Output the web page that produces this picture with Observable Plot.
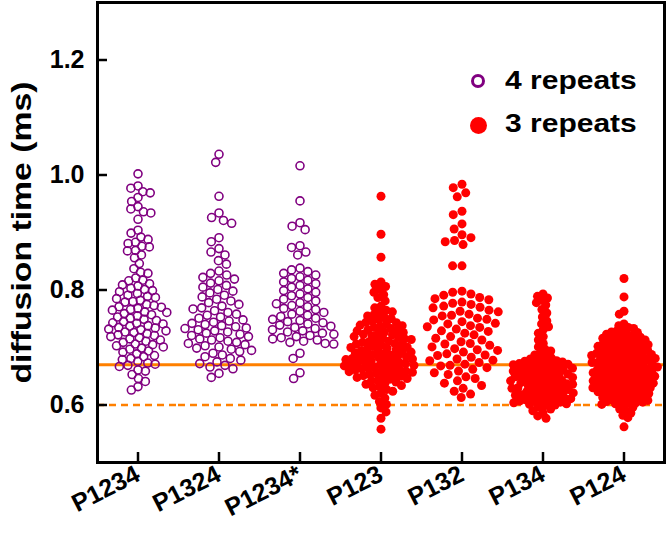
<!DOCTYPE html>
<html><head><meta charset="utf-8">
<script src="https://cdn.jsdelivr.net/npm/d3@7"></script>
<script src="https://cdn.jsdelivr.net/npm/@observablehq/plot@0.6"></script>
<style>
body{margin:0;background:#fff;}
#wrap{position:relative;width:668px;height:553px;font-family:"Liberation Sans",Arial,sans-serif;}
.leg{position:absolute;font-weight:bold;font-size:25px;color:#000;line-height:1;white-space:nowrap;transform:scaleX(1.2);transform-origin:left center;}
.mk{position:absolute;border-radius:50%;box-sizing:border-box;}
</style></head><body><div id="wrap"></div>
<script>
const categories = ["P1234", "P1324", "P1234*", "P123", "P132", "P134", "P124"];
const fourRepeatGroups = ["P1234", "P1324", "P1234*"];
const legendLabels = ["4 repeats", "3 repeats"];
const yTicks = [0.6, 0.8, 1.0, 1.2];
const yLabel = "diffusion time (ms)";
const referenceLines = {solid: 0.67, dashed: 0.60};

const valuesP1234 = [1.002, 0.981, 0.977, 0.971, 0.969, 0.961, 0.954, 0.945, 0.941, 0.936, 0.934, 0.923,
  0.904, 0.899, 0.892, 0.888, 0.883, 0.881, 0.876, 0.875, 0.869, 0.868, 0.861, 0.856,
  0.846, 0.837, 0.831, 0.829, 0.821,
  0.817, 0.816, 0.811, 0.809, 0.807, 0.803, 0.801, 0.799, 0.797, 0.794, 0.791, 0.789, 0.787, 0.785, 0.782,
  0.780, 0.779, 0.775, 0.773, 0.771, 0.770, 0.768, 0.766, 0.765, 0.762, 0.761, 0.759, 0.757, 0.755, 0.753,
  0.751, 0.749, 0.747, 0.745, 0.743, 0.742, 0.741, 0.738, 0.737, 0.735, 0.734, 0.732, 0.731, 0.729, 0.727,
  0.726, 0.724, 0.722, 0.721, 0.719, 0.717, 0.715, 0.713, 0.711, 0.709, 0.706, 0.705, 0.703, 0.701, 0.699,
  0.697, 0.694, 0.692, 0.689, 0.686, 0.684, 0.681, 0.679, 0.676, 0.673, 0.671, 0.669, 0.667,
  0.661, 0.659, 0.653, 0.646, 0.641, 0.632, 0.626];

const valuesP1324 = [1.036, 1.022, 0.963, 0.934, 0.926, 0.921, 0.916, 0.891, 0.884, 0.872, 0.866, 0.861, 0.851, 0.845,
  0.833, 0.829, 0.826, 0.822, 0.819, 0.816, 0.812, 0.808, 0.805, 0.801, 0.798, 0.795, 0.791, 0.788, 0.784,
  0.781, 0.778, 0.775, 0.772, 0.769, 0.767, 0.764, 0.761, 0.758, 0.756, 0.753, 0.751, 0.748, 0.746, 0.744,
  0.742, 0.740, 0.738, 0.736, 0.734, 0.733, 0.731, 0.729, 0.727, 0.725, 0.723, 0.721, 0.719, 0.717, 0.715,
  0.713, 0.711, 0.709, 0.707, 0.705, 0.703, 0.701, 0.699, 0.697, 0.695, 0.693, 0.690, 0.687, 0.684, 0.681,
  0.678, 0.675, 0.672, 0.669, 0.666, 0.663, 0.655, 0.648];

const valuesP1234s = [1.016, 0.955, 0.917, 0.911, 0.905, 0.877, 0.874, 0.866, 0.861,
  0.838, 0.835, 0.832, 0.829, 0.826, 0.823, 0.820, 0.817, 0.814, 0.811, 0.808, 0.805, 0.802, 0.799, 0.796,
  0.793, 0.790, 0.787, 0.784, 0.781, 0.778, 0.776, 0.773, 0.771, 0.768, 0.766, 0.763, 0.761, 0.758, 0.756,
  0.754, 0.751, 0.749, 0.747, 0.745, 0.743, 0.741, 0.739, 0.737, 0.735, 0.733, 0.731, 0.729, 0.727, 0.725,
  0.723, 0.721, 0.719, 0.717, 0.715, 0.713, 0.711, 0.709, 0.707, 0.706, 0.690, 0.681, 0.656, 0.646];

const valuesP123 = [0.963, 0.897, 0.857, 0.814, 0.810, 0.806, 0.801, 0.796, 0.792, 0.787, 0.781,
  0.772, 0.769, 0.765, 0.762, 0.760, 0.757, 0.755, 0.752, 0.750, 0.748, 0.746, 0.744, 0.743, 0.741, 0.739,
  0.738, 0.736, 0.735, 0.733, 0.731, 0.730, 0.729, 0.727, 0.726, 0.724, 0.723, 0.722, 0.720, 0.719, 0.718,
  0.716, 0.715, 0.714, 0.712, 0.711, 0.710, 0.709, 0.707, 0.706, 0.705, 0.704, 0.702, 0.701, 0.700, 0.699,
  0.698, 0.696, 0.695, 0.694, 0.693, 0.692, 0.691, 0.689, 0.688, 0.687, 0.686, 0.685, 0.684, 0.683, 0.682,
  0.681, 0.680, 0.679, 0.678, 0.677, 0.676, 0.675, 0.674, 0.673, 0.672, 0.671, 0.670, 0.669, 0.668, 0.667,
  0.666, 0.665, 0.664, 0.663, 0.662, 0.661, 0.660, 0.659, 0.658, 0.657, 0.656, 0.655, 0.654, 0.653, 0.651,
  0.650, 0.649, 0.648, 0.646, 0.645, 0.643, 0.642, 0.640, 0.638, 0.636, 0.634, 0.632, 0.630, 0.627, 0.624,
  0.621, 0.617, 0.612, 0.606, 0.601, 0.595, 0.588, 0.577, 0.558];

const valuesP132 = [0.984, 0.978, 0.969, 0.962, 0.937, 0.931, 0.915, 0.906, 0.896, 0.891, 0.886, 0.884, 0.879, 0.842, 0.842,
  0.798, 0.796, 0.793, 0.791, 0.787, 0.785, 0.783, 0.779, 0.777, 0.775, 0.772, 0.770, 0.769, 0.765, 0.763,
  0.762, 0.758, 0.756, 0.755, 0.751, 0.749, 0.748, 0.745, 0.742, 0.741, 0.738, 0.736, 0.735, 0.732, 0.729,
  0.728, 0.725, 0.722, 0.719, 0.716, 0.713, 0.710, 0.707, 0.706, 0.704, 0.701, 0.698, 0.696, 0.695, 0.692,
  0.689, 0.687, 0.686, 0.683, 0.680, 0.678, 0.677, 0.674, 0.671, 0.669, 0.668, 0.665, 0.662, 0.659, 0.656,
  0.653, 0.649, 0.646, 0.642, 0.638, 0.634, 0.629, 0.624, 0.619, 0.613];

const valuesP134 = [0.793, 0.789, 0.786, 0.782, 0.778, 0.774, 0.766, 0.760, 0.753, 0.746, 0.741, 0.736, 0.731, 0.725,
  0.719, 0.713, 0.707, 0.701, 0.697, 0.694, 0.690, 0.687, 0.684, 0.682,
  0.680, 0.679, 0.677, 0.676, 0.675, 0.674, 0.673, 0.672, 0.671, 0.670, 0.669, 0.668, 0.667, 0.666, 0.665,
  0.664, 0.663, 0.662, 0.661, 0.660, 0.659, 0.658, 0.657, 0.656, 0.655, 0.654, 0.653, 0.652, 0.651, 0.650,
  0.649, 0.648, 0.647, 0.646, 0.645, 0.644, 0.643, 0.642, 0.641, 0.640, 0.639, 0.638, 0.637, 0.636, 0.635,
  0.634, 0.633, 0.632, 0.631, 0.630, 0.629, 0.628, 0.627, 0.626, 0.625, 0.624, 0.623, 0.622, 0.621, 0.620,
  0.619, 0.618, 0.617, 0.616, 0.615, 0.614, 0.613, 0.612, 0.611, 0.610, 0.609, 0.608, 0.607, 0.606, 0.605,
  0.604, 0.603, 0.602, 0.601, 0.600, 0.598, 0.596, 0.593, 0.590, 0.586, 0.581, 0.577];

const valuesP124 = [0.820, 0.788, 0.763, 0.758, 0.741, 0.738, 0.735, 0.733, 0.731, 0.729, 0.727, 0.726, 0.724,
  0.723, 0.722, 0.720, 0.719, 0.718, 0.717, 0.716, 0.714, 0.713, 0.712, 0.711, 0.710, 0.709, 0.708, 0.707,
  0.706, 0.705, 0.704, 0.703, 0.702, 0.701, 0.700, 0.699, 0.698, 0.697, 0.696, 0.695, 0.694, 0.693, 0.692,
  0.691, 0.690, 0.690, 0.689, 0.688, 0.687, 0.686, 0.686, 0.685, 0.684, 0.683, 0.682, 0.682, 0.681, 0.680,
  0.679, 0.678, 0.678, 0.677, 0.676, 0.675, 0.674, 0.674, 0.673, 0.672, 0.671, 0.670, 0.670, 0.669, 0.668,
  0.667, 0.666, 0.666, 0.665, 0.664, 0.663, 0.662, 0.662, 0.661, 0.660, 0.659, 0.658, 0.658, 0.657, 0.656,
  0.655, 0.654, 0.654, 0.653, 0.652, 0.651, 0.650, 0.650, 0.649, 0.648, 0.647, 0.646, 0.646, 0.645, 0.644,
  0.643, 0.642, 0.642, 0.641, 0.640, 0.639, 0.638, 0.638, 0.637, 0.636, 0.635, 0.634, 0.634, 0.633, 0.632,
  0.631, 0.630, 0.630, 0.629, 0.628, 0.627, 0.626, 0.626, 0.625, 0.624, 0.623, 0.622, 0.621, 0.620, 0.619,
  0.618, 0.617, 0.616, 0.615, 0.614, 0.613, 0.612, 0.611, 0.610, 0.609, 0.608, 0.607, 0.606, 0.605, 0.604,
  0.603, 0.602, 0.601, 0.599, 0.596, 0.593, 0.590, 0.586, 0.582, 0.578, 0.562];

const seriesValues = [valuesP1234, valuesP1324, valuesP1234s, valuesP123, valuesP132, valuesP134, valuesP124];

const data = categories.flatMap((cat, i) => seriesValues[i].map(value => ({cat, value})));

// swarm packing per group (style only): how tightly each group's dots overlap
const swarmPadding = {"P1234": -0.5, "P1324": 0.7, "P1234*": 0.6, "P123": -2.5, "P132": 0.4, "P134": -3, "P124": -3.5};

function swarm(cat) {
  const rows = data.filter(d => d.cat === cat);
  const open = fourRepeatGroups.includes(cat);
  const style = open
    ? {r: 4, stroke: "#800080", strokeWidth: 1.6, fill: "none"}
    : {r: 4.5, fill: "#ff0000"};
  return Plot.dot(rows, Plot.dodgeX({anchor: "middle", padding: swarmPadding[cat]}, {fx: "cat", y: "value", ...style}));
}

const FONT = '"Liberation Sans", Arial, sans-serif';
const plot = Plot.plot({
  width: 668, height: 553,
  marginLeft: 96, marginRight: 3, marginTop: 2, marginBottom: 91,
  style: {fontFamily: FONT, background: "white", color: "black"},
  fx: {domain: categories, padding: 0, label: null},
  y: {domain: [0.5, 1.3], label: null},
  marks: [
    Plot.ruleY([referenceLines.solid], {stroke: "#ff8000", strokeWidth: 3}),
    Plot.ruleY([referenceLines.dashed], {stroke: "#ff8000", strokeWidth: 2.5, strokeDasharray: "7,5"}),
    ...categories.map(swarm),
    Plot.ruleX(categories, {fx: d => d, x: null, y1: 0.5, y2: 0.5174, stroke: "black", strokeWidth: 2.5}),
    Plot.axisY(yTicks, {tickSize: -10, tickPadding: 23, tickFormat: ".1f", fontSize: 25, fontWeight: "bold", strokeWidth: 2.5, label: null}),
    Plot.axisFx({anchor: "bottom", tickSize: 0, tickPadding: 10, tickRotate: -27, fontSize: 25, fontWeight: "bold", label: null}),
    Plot.text([yLabel], {frameAnchor: "left", textAnchor: "middle", lineAnchor: "middle", rotate: -90, dx: -75, fontSize: 28, fontWeight: "bold", facet: "super"}),
    Plot.frame({facet: "super", stroke: "black", strokeWidth: 3})
  ]
});
const wrap = document.getElementById("wrap");
wrap.appendChild(plot);

// stretch the y-axis title along its length, as in the reference
for (const t of plot.querySelectorAll("text")) {
  if (t.textContent === yLabel) {
    t.setAttribute("textLength", 302);
    t.setAttribute("lengthAdjust", "spacingAndGlyphs");
  }
}

// legend overlay
function addMarker(cx, cy, d, css) {
  const m = document.createElement("div");
  m.className = "mk";
  m.style.cssText = `left:${cx - d/2}px;top:${cy - d/2}px;width:${d}px;height:${d}px;` + css;
  wrap.appendChild(m);
}
function addLabel(x, cy, text) {
  const t = document.createElement("div");
  t.className = "leg";
  t.textContent = text;
  t.style.left = x + "px";
  t.style.top = (cy - 13) + "px";
  wrap.appendChild(t);
}
addMarker(478, 81, 14, "border:3px solid #800080;");
addLabel(505, 81, legendLabels[0]);
addMarker(478, 125, 17, "background:#ff0000;");
addLabel(505, 124, legendLabels[1]);
</script></body></html>
